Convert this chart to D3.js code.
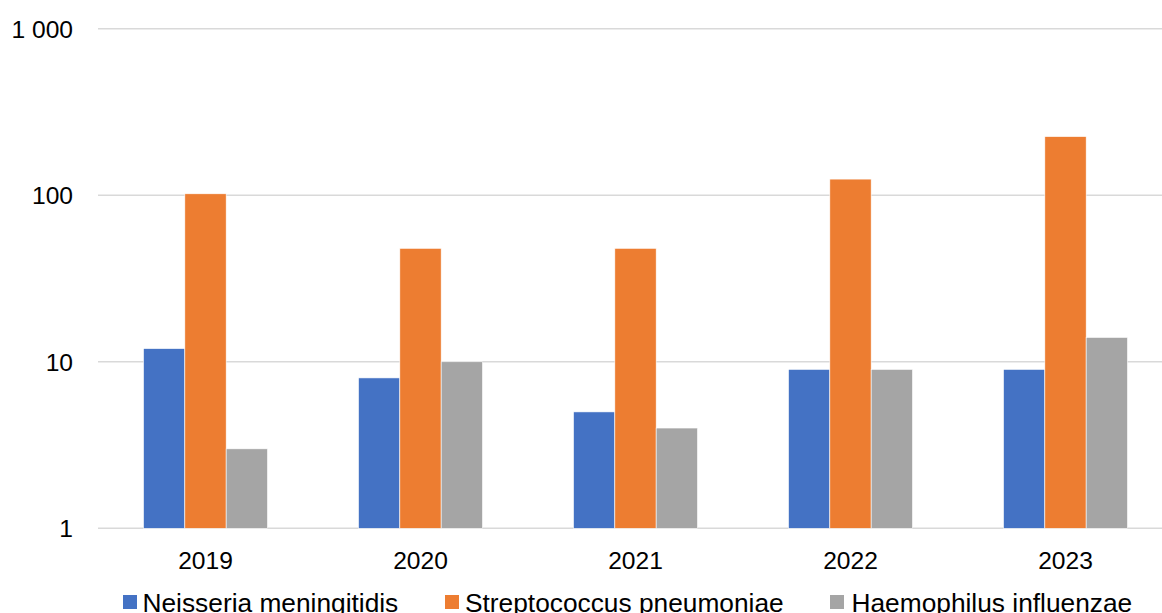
<!DOCTYPE html>
<html><head><meta charset="utf-8">
<script src="https://cdn.jsdelivr.net/npm/d3@7"></script>
<style>html,body{margin:0;padding:0;background:#fff;overflow:hidden}svg{display:block}</style>
</head><body>
<script>
const categories = ["2019","2020","2021","2022","2023"];
const seriesNames = ["Neisseria meningitidis","Streptococcus pneumoniae","Haemophilus influenzae"];
const neisseria = [12, 8, 5, 9, 9];
const streptococcus = [102, 48, 48, 125, 225];
const haemophilus = [3, 10, 4, 9, 14];
const yTicks = [1, 10, 100, 1000];
const colors = ["#4472C4", "#ED7D31", "#A5A5A5"];

const W = 1162, H = 613;
const svg = d3.select("body").append("svg").attr("width", W).attr("height", H);
const font = "'Liberation Sans', Arial, sans-serif";

const x = d3.scaleBand().domain(categories).range([98, 1173]).paddingInner(91/215).paddingOuter(45.5/215);
const x1 = d3.scaleBand().domain(seriesNames).range([0, x.bandwidth()]);
const y = d3.scaleLog().domain([1, 1000]).range([528.3, 28.7]);

// gridlines
svg.append("g").selectAll("line").data(yTicks).join("line")
  .attr("x1", 98).attr("x2", W)
  .attr("y1", d => y(d)).attr("y2", d => y(d))
  .attr("stroke", "#d9d9d9").attr("stroke-width", 1.5);

// y labels
const fmt = d => d3.format(",")(d).replace(/,/g, " ");
svg.append("g").selectAll("text").data(yTicks).join("text")
  .attr("x", 73).attr("y", d => y(d)).attr("dy", "0.36em")
  .attr("text-anchor", "end").attr("font-family", font).attr("font-size", 24.6)
  .attr("fill", "#000").text(fmt);

const data = [neisseria, streptococcus, haemophilus];
const g = svg.append("g");
seriesNames.forEach((s, si) => {
  g.append("g").selectAll("rect").data(categories).join("rect")
    .attr("x", c => x(c) + x1(s))
    .attr("width", x1.bandwidth())
    .attr("y", (c, i) => y(data[si][i]))
    .attr("height", (c, i) => y(1) - y(data[si][i]))
    .attr("fill", colors[si])
    .attr("stroke", "#fff").attr("stroke-width", 0.6);
});

// x labels
svg.append("g").selectAll("text").data(categories).join("text")
  .attr("x", c => x(c) + x.bandwidth()/2).attr("y", 569)
  .attr("text-anchor", "middle").attr("font-family", font).attr("font-size", 24.6)
  .attr("fill", "#000").text(c => c);

// legend
const legendX = [123, 445, 830];
const textOff = [19.5, 20, 21.5];
const lg = svg.append("g");
seriesNames.forEach((s, i) => {
  lg.append("rect").attr("x", legendX[i]).attr("y", 595).attr("width", 14).attr("height", 14).attr("fill", colors[i]);
  lg.append("text").attr("x", legendX[i] + textOff[i]).attr("y", 612)
    .attr("font-family", font).attr("font-size", 26.3).attr("fill", "#000").text(s);
});
</script>
</body></html>
